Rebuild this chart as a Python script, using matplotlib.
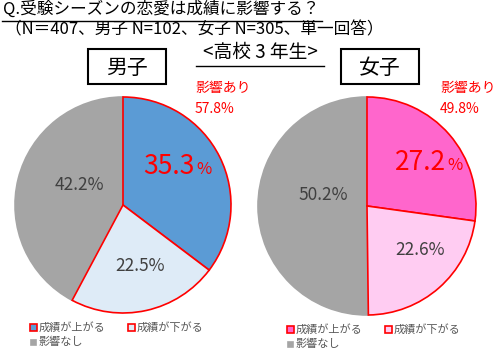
import matplotlib
matplotlib.use('Agg')
import matplotlib.pyplot as plt
from matplotlib.patches import Rectangle
from matplotlib.lines import Line2D

plt.rcParams['font.family'] = ['Noto Sans CJK JP', 'DejaVu Sans']

# data
categories = ['成績が上がる', '成績が下がる', '影響なし']
boys = [35.3, 22.5, 42.2]
girls = [27.2, 22.6, 50.2]
boys_affected = 57.8
girls_affected = 49.8

W, H = 500, 351
fig = plt.figure(figsize=(W / 100, H / 100), dpi=100)


def px(x, y):
    return x / W, 1 - y / H


def pie_axes(cx, cy, r):
    return fig.add_axes([(cx - r) / W, (H - cy - r) / H, 2 * r / W, 2 * r / H])


def draw_pie(ax, vals, colors):
    wedges, _ = ax.pie(vals, colors=colors, startangle=90, counterclock=False,
                       radius=1, wedgeprops=dict(linewidth=1.2))
    wedges[0].set_edgecolor('#FF0000')
    wedges[1].set_edgecolor('#FF0000')
    wedges[2].set_edgecolor('#A5A5A5')
    wedges[2].set_zorder(1)
    wedges[0].set_zorder(2)
    wedges[1].set_zorder(2)
    # pie() resets limits to +-1.25, put them back so r fills the box
    ax.set_xlim(-1, 1)
    ax.set_ylim(-1, 1)
    ax.axis('off')
    return wedges


boy_colors = ['#5B9BD5', '#DEEBF7', '#A5A5A5']
girl_colors = ['#FF66CC', '#FFCCF2', '#A5A5A5']

ax_l = pie_axes(123, 205, 108)
draw_pie(ax_l, boys, boy_colors)
ax_r = pie_axes(367, 206, 109)
draw_pie(ax_r, girls, girl_colors)

# slice labels
def big_label(x, y, v):
    fig.text(*px(x, y), f'{v}', color='#FF0000', fontsize=19, ha='right', va='center')
    fig.text(*px(x + 1, y + 3), '%', color='#FF0000', fontsize=12, ha='left', va='center')

big_label(195, 167, boys[0])
big_label(446, 162, girls[0])

lbl = dict(color='#404040', fontsize=12.5, ha='center', va='center')
fig.text(*px(140, 266), f'{boys[1]}%', **lbl)
fig.text(*px(79, 185), f'{boys[2]}%', **lbl)
fig.text(*px(420, 250), f'{girls[1]}%', **lbl)
fig.text(*px(323, 195), f'{girls[2]}%', **lbl)

# affected totals
aff = dict(color='#FF0000', fontsize=10, ha='left', va='center')
fig.text(*px(195, 88), '影響あり', **aff)
fig.text(*px(195, 109), f'{boys_affected}%', **aff)
fig.text(*px(440, 88), '影響あり', **aff)
fig.text(*px(440, 109), f'{girls_affected}%', **aff)

# title
fig.text(*px(3, 9), 'Q.受験シーズンの恋愛は成績に影響する？', fontsize=12,
         ha='left', va='center', color='#000000')
fig.add_artist(Line2D([2 / W, 322 / W], [1 - 20.5 / H] * 2, color='black', lw=1))
fig.text(*px(5, 30), '（N＝407、男子 N=102、女子 N=305、単一回答）', fontsize=12,
         ha='left', va='center', color='#000000')
fig.text(*px(260, 52), '<高校 3 年生>', fontsize=13.5, ha='center', va='center')
fig.add_artist(Line2D([196 / W, 324 / W], [1 - 66 / H] * 2, color='black', lw=1))

# group boxes
for x0, x1, name in [(88, 166, '男子'), (341, 419, '女子')]:
    fig.add_artist(Rectangle((x0 / W, 1 - 84 / H), (x1 - x0) / W, 35 / H,
                             transform=fig.transFigure, facecolor='white',
                             edgecolor='black', lw=1.5))
    fig.text((x0 + x1) / 2 / W, 1 - 68 / H, name, fontsize=15,
             ha='center', va='center')

# legends
def legend(x, y, colors):
    spots = [(x, y), (x + 98, y), (x, y + 15)]
    for (lx, ly), c, name, i in zip(spots, colors, categories, range(3)):
        s = 7 if i < 2 else 5
        ec = '#FF0000' if i < 2 else c
        fig.add_artist(Rectangle(((lx - s / 2) / W, 1 - (ly + s / 2) / H), s / W, s / H,
                                 transform=fig.transFigure, facecolor=c,
                                 edgecolor=ec, lw=1.2))
        fig.text((lx + 6) / W, 1 - ly / H, name, fontsize=8, color='#595959',
                 ha='left', va='center')

legend(33, 327, boy_colors)
legend(290, 329, girl_colors)

fig.savefig('out.png', dpi=100)
